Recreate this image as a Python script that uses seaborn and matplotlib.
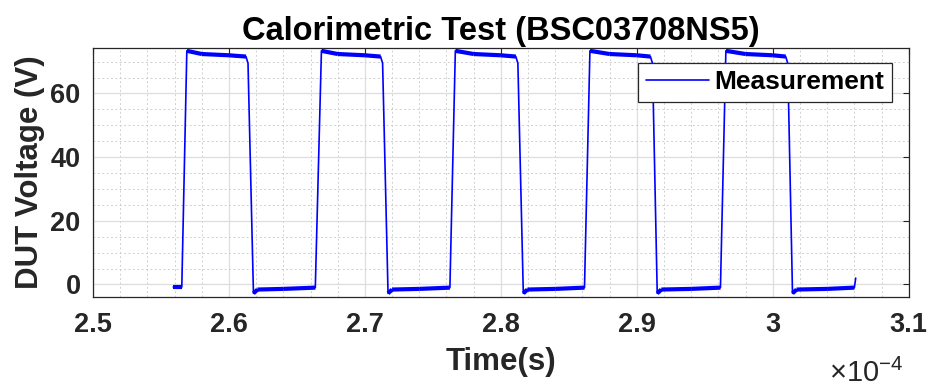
import numpy as np
import pandas as pd
import matplotlib
matplotlib.use("Agg")
import matplotlib.pyplot as plt
from matplotlib.ticker import MultipleLocator, FuncFormatter
import seaborn as sns

# Oscilloscope trace of the DUT voltage, corner points of each switching cycle.
# Time is given in units of 1e-4 s.
time_e4 = [
    2.5590, 2.5653,
    2.5690, 2.5800, 2.6000, 2.6125, 2.6140, 2.6180, 2.6210, 2.6400, 2.6635,
    2.6680, 2.6800, 2.7000, 2.7115, 2.7130, 2.7170, 2.7200, 2.7400, 2.7625,
    2.7665, 2.7800, 2.8000, 2.8110, 2.8125, 2.8165, 2.8195, 2.8400, 2.8615,
    2.8655, 2.8800, 2.9000, 2.9100, 2.9115, 2.9150, 2.9180, 2.9400, 2.9615,
    2.9655, 2.9800, 3.0000, 3.0095, 3.0110, 3.0145, 3.0175, 3.0400, 3.0600, 3.0610,
]
voltage_v = [
    -0.8, -0.8,
    73.4, 72.4, 72.0, 71.6, 69.5, -2.8, -1.6, -1.4, -1.0,
    73.4, 72.4, 72.0, 71.6, 69.5, -2.8, -1.6, -1.4, -1.0,
    73.4, 72.4, 72.0, 71.6, 69.5, -2.8, -1.6, -1.4, -1.0,
    73.4, 72.4, 72.0, 71.6, 69.5, -2.8, -1.6, -1.4, -1.0,
    73.4, 72.4, 72.0, 71.6, 69.5, -2.8, -1.6, -1.4, -1.0, 2.0,
]
x_ticks = [2.5, 2.6, 2.7, 2.8, 2.9, 3.0, 3.1]
y_ticks = [0, 20, 40, 60]

trace = pd.DataFrame({"t": time_e4, "v": voltage_v})

# Flat (on / off) stretches carry visible noise; draw them as a wider band.
t = np.asarray(time_e4)
v = np.asarray(voltage_v)
rows = []
for i in range(len(t) - 1):
    a, b = v[i], v[i + 1]
    flat = (abs(a) < 10 and abs(b) < 10 and abs(b - a) < 2.5) or (a > 71 and b > 71)
    if flat:
        rows.append((i, t[i], a))
        rows.append((i, t[i + 1], b))
band = pd.DataFrame(rows, columns=["seg", "t", "v"])

sns.set_style("white")
plt.rcParams["font.family"] = ["Liberation Sans", "DejaVu Sans"]
plt.rcParams["mathtext.fontset"] = "custom"
plt.rcParams["mathtext.rm"] = "Liberation Sans"

fig = plt.figure(figsize=(9.33, 3.90), dpi=100)
ax = fig.add_axes([0.0997, 0.238, 0.8743, 0.639])

ax.grid(True, which="major", color="#dedede", linewidth=0.9, linestyle="-")
ax.grid(True, which="minor", color="#cfcfcf", linewidth=0.7, linestyle=(0, (2, 2.5)))
ax.set_axisbelow(True)

sns.lineplot(data=band, x="t", y="v", units="seg", estimator=None, sort=False,
             color="#0000ff", linewidth=3.0, ax=ax, legend=False,
             solid_capstyle="butt", solid_joinstyle="miter")
sns.lineplot(data=trace, x="t", y="v", estimator=None, sort=False,
             color="#0000ff", linewidth=1.2, ax=ax, label="Measurement")

ax.set_xlim(2.5, 3.1)
ax.set_ylim(-4.0, 74.3)
ax.set_xticks(x_ticks)
ax.set_yticks(y_ticks)
ax.xaxis.set_minor_locator(MultipleLocator(0.02))
ax.yaxis.set_minor_locator(MultipleLocator(5))
ax.xaxis.set_major_formatter(FuncFormatter(lambda val, pos: f"{val:g}"))

ax.tick_params(axis="both", which="major", direction="in", length=4, width=0.8,
               colors="#262626", labelsize=19.5, top=True, right=True)
ax.tick_params(axis="x", which="major", pad=11)
ax.tick_params(axis="y", which="major", pad=9)
ax.tick_params(axis="both", which="minor", length=0)
for lab in ax.get_xticklabels() + ax.get_yticklabels():
    lab.set_fontweight("bold")
for s in ax.spines.values():
    s.set_color("#262626")
    s.set_linewidth(0.9)
    s.set_visible(True)

ax.set_xlabel("Time(s)", fontsize=22.5, fontweight="bold", labelpad=6)
ax.set_ylabel("DUT Voltage (V)", fontsize=22.5, fontweight="bold", labelpad=4)
ax.set_title("Calorimetric Test (BSC03708NS5)", fontsize=23.5, fontweight="bold",
             pad=6, color="black")

fig.text(0.889, 0.02, r"$\times10^{-4}$", fontsize=21, color="#262626")

leg = ax.legend(loc="upper right", bbox_to_anchor=(0.979, 0.94), frameon=True,
                fancybox=False, framealpha=1, edgecolor="#262626",
                prop={"weight": "bold", "size": 19}, handlelength=2.4,
                handletextpad=0.2, borderpad=0.28, borderaxespad=0.0)
leg.get_frame().set_linewidth(0.9)
for txt in leg.get_texts():
    txt.set_color("black")

fig.savefig("out.png", dpi=100)
